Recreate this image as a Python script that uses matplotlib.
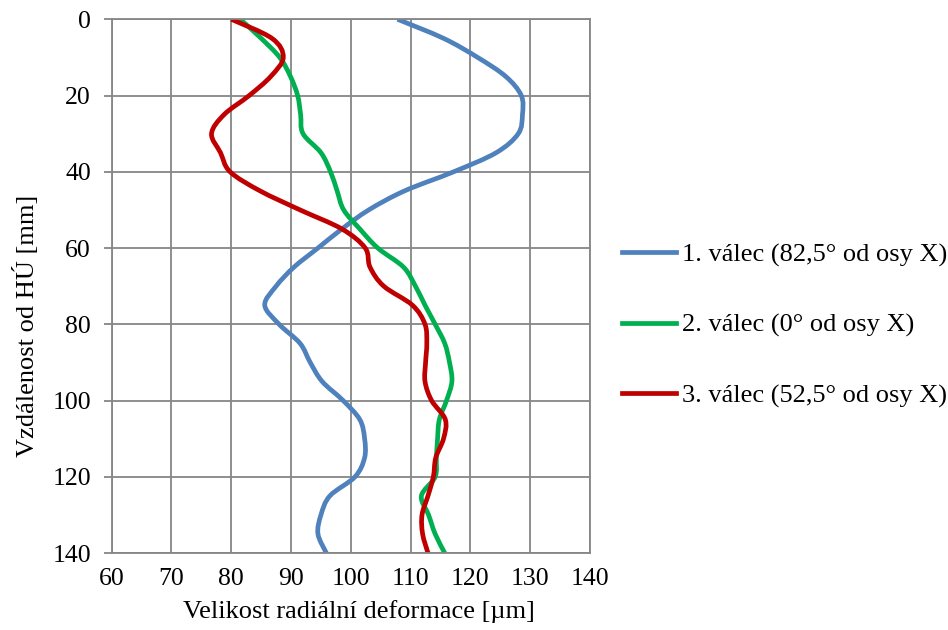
import matplotlib
matplotlib.use("Agg")
import matplotlib.pyplot as plt
from matplotlib.path import Path
from matplotlib.patches import PathPatch
from matplotlib.lines import Line2D
import numpy as np

plt.rcParams['font.family'] = ['Liberation Serif', 'DejaVu Serif']

# distance from HÚ [mm]
distance = [0, 5, 10, 15, 20, 25, 30, 35, 40, 45, 50, 55, 60, 65, 70,
            75, 80, 85, 90, 95, 100, 105, 110, 115, 120, 125, 130, 135, 140]

# radial deformation [µm]
valec1 = [107.8, 115.5, 121.2, 125.9, 128.5, 128.7, 128.0, 124.3, 117.2, 109.0,
          103.0, 98.5, 94.5, 90.5, 87.5, 85.6, 88.0, 91.5, 93.2, 95.2,
          98.7, 101.5, 102.3, 102.3, 100.7, 96.5, 95.0, 94.5, 95.9]
valec2 = [81.5, 85.0, 88.1, 89.9, 91.1, 91.6, 92.0, 95.0, 96.6, 97.7,
          98.8, 101.5, 104.5, 108.8, 110.8, 112.4, 114.1, 115.7, 116.5, 116.9,
          116.0, 114.8, 114.5, 114.3, 114.1, 111.8, 113.0, 114.1, 115.7]
valec3 = [80.0, 86.8, 88.7, 86.6, 83.0, 78.8, 76.7, 78.2, 79.8, 84.8,
          91.5, 98.5, 102.4, 103.2, 105.5, 110.3, 112.4, 112.7, 112.5, 112.4,
          113.5, 115.8, 115.5, 114.2, 113.8, 112.9, 111.9, 112.0, 112.9]

labels = ["1. válec (82,5° od osy X)", "2. válec (0° od osy X)", "3. válec (52,5° od osy X)"]
colors = ["#4F81BD", "#00B050", "#C00000"]

xticks = [60, 70, 80, 90, 100, 110, 120, 130, 140]
yticks = [0, 20, 40, 60, 80, 100, 120, 140]


def smooth_path(xs, ys):
    """Catmull-Rom smoothing expressed as cubic Bezier path (data coords)."""
    p = np.column_stack([xs, ys]).astype(float)
    n = len(p)
    verts = [p[0]]
    codes = [Path.MOVETO]
    for i in range(n - 1):
        p0 = p[i - 1] if i > 0 else p[i]
        p1 = p[i]
        p2 = p[i + 1]
        p3 = p[i + 2] if i + 2 < n else p[i + 1]
        c1 = p1 + (p2 - p0) / 6.0
        c2 = p2 - (p3 - p1) / 6.0
        verts += [c1, c2, p2]
        codes += [Path.CURVE4] * 3
    return Path(verts, codes)


fig = plt.figure(figsize=(9.48, 6.3), dpi=100)
ax = fig.add_axes([0.1178, 0.1222, 0.5046, 0.8472])

ax.set_xlim(60, 140)
ax.set_ylim(140, 0)
ax.set_xticks(xticks)
ax.set_yticks(yticks)

grid_c = "#868686"
ax.grid(True, color=grid_c, linewidth=1.3)
ax.set_axisbelow(True)
for s in ax.spines.values():
    s.set_color(grid_c)
    s.set_linewidth(1.3)

FS = 18.5
ax.tick_params(axis='y', length=6, width=1.3, color=grid_c, labelsize=FS, pad=9)
ax.tick_params(axis='x', length=0, labelsize=FS, pad=11)

handles = []
LW = 3.4
for vals, c, lab in zip([valec1, valec2, valec3], colors, labels):
    path = smooth_path(vals, distance)
    patch = PathPatch(path, facecolor='none', edgecolor=c, linewidth=LW,
                      capstyle='butt', joinstyle='round')
    ax.add_patch(patch)
    handles.append(Line2D([], [], color=c, linewidth=LW, label=lab))

ax.set_xlabel("Velikost radiální deformace [µm]", fontsize=19)
ax.xaxis.set_label_coords(0.517, -0.1105)
ax.xaxis.label.set_va('center')
ax.set_ylabel("Vzdálenost od HÚ [mm]", fontsize=19)
ax.yaxis.set_label_coords(-0.18, 0.425)
ax.yaxis.label.set_va('center')

fig.legend(handles=handles, loc='center left', bbox_to_anchor=(0.6558, 0.4835),
           frameon=False, fontsize=19, handlelength=2.05, handletextpad=0.22,
           labelspacing=1.76, borderpad=0, borderaxespad=0)

fig.savefig("out.png", dpi=100)
